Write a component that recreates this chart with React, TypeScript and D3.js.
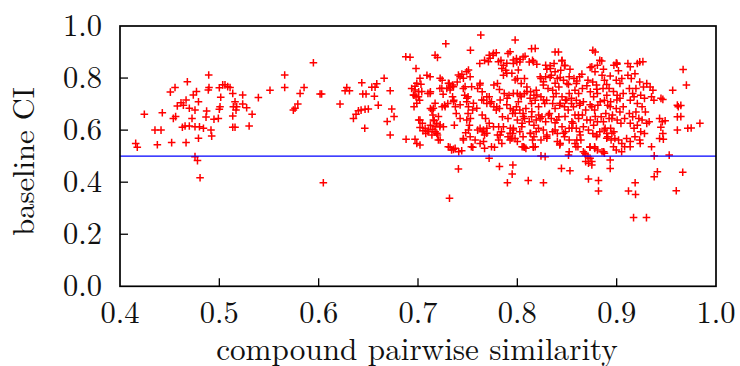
import React, { useEffect, useRef } from "react";
import * as d3 from "d3";

const xTicks = [0.4, 0.5, 0.6, 0.7, 0.8, 0.9, 1.0];
const yTicks = [0.0, 0.2, 0.4, 0.6, 0.8, 1.0];
const xLabel = "compound pairwise similarity";
const yLabel = "baseline CI";
const threshold = 0.5;

// [compound pairwise similarity, baseline CI]
const leftCluster: [number, number][] = [
  [0.4158, 0.549], [0.4174, 0.534], [0.4245, 0.661], [0.4352, 0.6], [0.4413, 0.6], [0.4376, 0.544],
  [0.4426, 0.667], [0.4507, 0.746], [0.4554, 0.764], [0.452, 0.552], [0.4537, 0.645], [0.456, 0.652],
  [0.4577, 0.693], [0.4614, 0.705], [0.4638, 0.696], [0.4665, 0.716], [0.4678, 0.786], [0.4665, 0.552],
  [0.4628, 0.611], [0.4655, 0.616], [0.4698, 0.616], [0.4755, 0.613], [0.48, 0.613], [0.484, 0.607],
  [0.4725, 0.645], [0.4755, 0.677], [0.479, 0.709], [0.477, 0.748], [0.4738, 0.735], [0.4698, 0.684],
  [0.4755, 0.498], [0.478, 0.483], [0.4806, 0.417], [0.479, 0.569], [0.4872, 0.673], [0.4889, 0.754],
  [0.4896, 0.764], [0.4893, 0.812], [0.4923, 0.577], [0.4916, 0.6], [0.4946, 0.642], [0.499, 0.645],
  [0.5, 0.68], [0.5007, 0.69], [0.5014, 0.726], [0.5, 0.763], [0.5034, 0.774], [0.5057, 0.774],
  [0.5084, 0.767], [0.5108, 0.764], [0.5135, 0.741], [0.5158, 0.709], [0.5175, 0.69], [0.5141, 0.69],
  [0.5168, 0.677], [0.5135, 0.654], [0.5135, 0.611], [0.5158, 0.611], [0.5235, 0.735], [0.5235, 0.7],
  [0.5275, 0.686], [0.53, 0.616], [0.533, 0.661], [0.5393, 0.725], [0.4866, 0.65],
];

const midCluster: [number, number][] = [
  [0.551, 0.753], [0.5658, 0.812], [0.5658, 0.764], [0.5745, 0.677], [0.5762, 0.684], [0.579, 0.7],
  [0.5813, 0.741], [0.5853, 0.764], [0.5947, 0.859], [0.6014, 0.739], [0.603, 0.739], [0.6047, 0.398],
  [0.6215, 0.7], [0.6266, 0.751], [0.6283, 0.764], [0.631, 0.751], [0.635, 0.645], [0.6376, 0.661],
  [0.64, 0.674], [0.6434, 0.782], [0.6444, 0.739], [0.6477, 0.739], [0.6427, 0.677], [0.6467, 0.68],
  [0.65, 0.681], [0.6464, 0.607], [0.6535, 0.765], [0.6568, 0.765], [0.6585, 0.778], [0.6561, 0.73],
  [0.66, 0.696], [0.6659, 0.799], [0.672, 0.751], [0.6736, 0.681], [0.6759, 0.652], [0.669, 0.633],
  [0.672, 0.581], [0.6877, 0.882], [0.692, 0.88], [0.688, 0.565], [0.697, 0.565], [0.698, 0.837],
];

const rightCluster: [number, number][] = [
  [0.6936, 0.76], [0.697, 0.769], [0.7007, 0.747], [0.703, 0.776], [0.696, 0.734], [0.698, 0.728],
  [0.7016, 0.715], [0.696, 0.69], [0.7007, 0.639], [0.702, 0.61], [0.6988, 0.549], [0.7044, 0.626],
  [0.709, 0.811], [0.71, 0.741], [0.7125, 0.747], [0.705, 0.598], [0.7078, 0.587], [0.71, 0.594],
  [0.7125, 0.683], [0.714, 0.677], [0.7172, 0.888], [0.7196, 0.879], [0.715, 0.658], [0.7163, 0.636],
  [0.7125, 0.619], [0.715, 0.603], [0.7172, 0.594], [0.714, 0.581], [0.7187, 0.626], [0.722, 0.613],
  [0.7196, 0.581], [0.7205, 0.562], [0.722, 0.76], [0.7243, 0.792], [0.7253, 0.738], [0.728, 0.932],
  [0.7243, 0.69], [0.7267, 0.696], [0.73, 0.702], [0.729, 0.76], [0.7314, 0.779], [0.7328, 0.764],
  [0.7348, 0.773], [0.7305, 0.536], [0.7338, 0.524], [0.7317, 0.338], [0.7348, 0.728], [0.736, 0.715],
  [0.7376, 0.69], [0.7385, 0.664], [0.7366, 0.619], [0.741, 0.517], [0.7407, 0.451], [0.7395, 0.785],
  [0.7423, 0.805], [0.7442, 0.815], [0.7456, 0.76], [0.747, 0.734], [0.749, 0.709], [0.7504, 0.728],
  [0.749, 0.824], [0.7504, 0.664], [0.7528, 0.645], [0.755, 0.677], [0.7518, 0.619], [0.748, 0.59],
  [0.7456, 0.568], [0.7528, 0.907], [0.7537, 0.536], [0.7575, 0.562], [0.76, 0.6], [0.76, 0.76],
  [0.7622, 0.773], [0.7646, 0.747], [0.7632, 0.965], [0.7622, 0.856], [0.767, 0.868], [0.7717, 0.888],
  [0.766, 0.715], [0.7693, 0.702], [0.7717, 0.728], [0.774, 0.709], [0.7764, 0.69], [0.7646, 0.658],
  [0.768, 0.645], [0.7717, 0.626], [0.7646, 0.594], [0.767, 0.581], [0.7693, 0.607], [0.767, 0.53],
  [0.774, 0.536], [0.7716, 0.492], [0.7755, 0.888], [0.7788, 0.897], [0.7764, 0.773], [0.78, 0.779],
  [0.782, 0.756], [0.7788, 0.677], [0.782, 0.683], [0.785, 0.651], [0.7812, 0.613], [0.784, 0.594],
  [0.78, 0.581], [0.7812, 0.562], [0.782, 0.46], [0.7835, 0.868], [0.786, 0.849], [0.7883, 0.83],
  [0.786, 0.811], [0.7868, 0.741], [0.7897, 0.722], [0.7916, 0.734], [0.7906, 0.894], [0.793, 0.683],
  [0.7953, 0.664], [0.7906, 0.645], [0.793, 0.607], [0.7953, 0.587], [0.7906, 0.575], [0.7977, 0.568],
  [0.79, 0.398], [0.7955, 0.466], [0.7948, 0.431], [0.7978, 0.946], [0.7991, 0.875], [0.8025, 0.862],
  [0.8058, 0.881], [0.8, 0.798], [0.8039, 0.779], [0.8072, 0.798], [0.8096, 0.766], [0.8, 0.741],
  [0.8039, 0.728], [0.8072, 0.741], [0.7991, 0.69], [0.8025, 0.677], [0.8058, 0.664], [0.8086, 0.683],
  [0.8, 0.639], [0.8048, 0.626], [0.8072, 0.645], [0.8025, 0.594], [0.8058, 0.575], [0.8, 0.556],
  [0.8048, 0.536], [0.8086, 0.53], [0.811, 0.406], [0.812, 0.862], [0.8153, 0.868], [0.8134, 0.747],
  [0.8167, 0.734], [0.819, 0.753], [0.8143, 0.702], [0.818, 0.715], [0.8214, 0.69], [0.8143, 0.651],
  [0.812, 0.632], [0.8167, 0.619], [0.819, 0.639], [0.8214, 0.658], [0.8134, 0.587], [0.8167, 0.575],
  [0.819, 0.594], [0.8153, 0.562], [0.818, 0.536], [0.8143, 0.913], [0.8238, 0.798], [0.8262, 0.773],
  [0.8285, 0.805], [0.8309, 0.76], [0.8238, 0.728], [0.8276, 0.702], [0.8295, 0.715], [0.8248, 0.651],
  [0.8285, 0.632], [0.8323, 0.664], [0.8262, 0.6], [0.8295, 0.575], [0.8238, 0.562], [0.8238, 0.501],
  [0.828, 0.498], [0.8263, 0.398], [0.8285, 0.849], [0.8333, 0.837], [0.837, 0.856], [0.8342, 0.811],
  [0.838, 0.824], [0.8403, 0.798], [0.8356, 0.753], [0.839, 0.741], [0.8418, 0.766], [0.8356, 0.702],
  [0.838, 0.683], [0.8427, 0.696], [0.8342, 0.645], [0.838, 0.628], [0.8418, 0.651], [0.8356, 0.594],
  [0.8403, 0.587], [0.838, 0.9], [0.8403, 0.556], [0.8427, 0.543], [0.8444, 0.453], [0.845, 0.868],
  [0.8475, 0.849], [0.8437, 0.83], [0.8465, 0.792], [0.85, 0.779], [0.8522, 0.805], [0.845, 0.728],
  [0.8484, 0.715], [0.8522, 0.741], [0.8545, 0.722], [0.8475, 0.69], [0.8512, 0.677], [0.8545, 0.702],
  [0.845, 0.613], [0.8484, 0.594], [0.8522, 0.607], [0.856, 0.626], [0.8475, 0.575], [0.8522, 0.562],
  [0.8515, 0.504], [0.8522, 0.517], [0.853, 0.444], [0.857, 0.798], [0.8594, 0.779], [0.8627, 0.805],
  [0.858, 0.753], [0.8617, 0.741], [0.8655, 0.76], [0.8594, 0.715], [0.8627, 0.696], [0.8665, 0.709],
  [0.858, 0.658], [0.8617, 0.645], [0.8655, 0.658], [0.8688, 0.677], [0.8594, 0.607], [0.8627, 0.594],
  [0.8665, 0.613], [0.858, 0.549], [0.861, 0.536], [0.864, 0.562], [0.8665, 0.517], [0.8688, 0.504],
  [0.8711, 0.498], [0.8688, 0.479], [0.8733, 0.492], [0.875, 0.479], [0.8716, 0.473], [0.875, 0.466],
  [0.8716, 0.412], [0.876, 0.907], [0.875, 0.843], [0.8782, 0.824], [0.8806, 0.849], [0.8711, 0.792],
  [0.8759, 0.785], [0.8797, 0.773], [0.8735, 0.747], [0.8768, 0.728], [0.8806, 0.741], [0.875, 0.69],
  [0.8778, 0.677], [0.8811, 0.696], [0.8735, 0.639], [0.8768, 0.619], [0.8806, 0.632], [0.8844, 0.651],
  [0.876, 0.587], [0.8797, 0.575], [0.883, 0.594], [0.8778, 0.536], [0.8806, 0.524], [0.8817, 0.406],
  [0.8817, 0.366], [0.883, 0.868], [0.8853, 0.811], [0.8877, 0.792], [0.8863, 0.76], [0.8901, 0.734],
  [0.8924, 0.76], [0.8877, 0.715], [0.891, 0.696], [0.8939, 0.709], [0.8891, 0.664], [0.8924, 0.645],
  [0.8958, 0.658], [0.8877, 0.6], [0.8901, 0.587], [0.8939, 0.607], [0.8972, 0.594], [0.891, 0.575],
  [0.8944, 0.562], [0.8982, 0.568], [0.8853, 0.517], [0.8877, 0.511], [0.8935, 0.485], [0.8935, 0.453],
  [0.8972, 0.849], [0.8996, 0.858], [0.8996, 0.792], [0.9033, 0.779], [0.9052, 0.798], [0.9005, 0.734],
  [0.9033, 0.722], [0.9066, 0.741], [0.8996, 0.683], [0.9033, 0.67], [0.9066, 0.69], [0.9005, 0.639],
  [0.9043, 0.626], [0.908, 0.645], [0.9019, 0.562], [0.9052, 0.549], [0.908, 0.536], [0.8996, 0.524],
  [0.9113, 0.856], [0.9137, 0.843], [0.9208, 0.856], [0.9232, 0.862], [0.9264, 0.863], [0.9113, 0.811],
  [0.9147, 0.798], [0.9184, 0.817], [0.9128, 0.76], [0.9161, 0.741], [0.9194, 0.76], [0.9137, 0.715],
  [0.9175, 0.728], [0.9208, 0.702], [0.9128, 0.664], [0.9161, 0.651], [0.9194, 0.67], [0.9223, 0.645],
  [0.9137, 0.626], [0.9175, 0.607], [0.9208, 0.619], [0.91, 0.568], [0.9137, 0.556], [0.9184, 0.575],
  [0.9119, 0.366], [0.9186, 0.398], [0.919, 0.353], [0.917, 0.264], [0.93, 0.264], [0.9232, 0.785],
  [0.927, 0.766], [0.9303, 0.779], [0.9242, 0.734], [0.928, 0.722], [0.9256, 0.69], [0.9289, 0.67],
  [0.9256, 0.639], [0.9303, 0.626], [0.9327, 0.632], [0.9242, 0.594], [0.928, 0.587], [0.9232, 0.562],
  [0.9337, 0.766], [0.9365, 0.753], [0.9351, 0.728], [0.9375, 0.715], [0.9351, 0.536], [0.9378, 0.501],
  [0.9378, 0.421], [0.941, 0.44], [0.9446, 0.722], [0.9432, 0.645], [0.946, 0.632], [0.9465, 0.587],
  [0.9432, 0.568], [0.9529, 0.504], [0.9564, 0.753], [0.9611, 0.696], [0.962, 0.69], [0.9611, 0.651],
  [0.9611, 0.6], [0.96, 0.367], [0.9665, 0.438], [0.9669, 0.833], [0.9702, 0.773], [0.9716, 0.607],
  [0.9838, 0.626], [0.9465, 0.718], [0.9488, 0.636], [0.9445, 0.611], [0.9237, 0.549], [0.947, 0.565],
];

const coreExtra: [number, number][] = [
  [0.818, 0.914], [0.8414, 0.9], [0.8784, 0.9], [0.7995, 0.862], [0.8028, 0.871], [0.8078, 0.884],
  [0.796, 0.856], [0.801, 0.831], [0.7945, 0.818], [0.8162, 0.862], [0.8196, 0.853], [0.8297, 0.834],
  [0.833, 0.847], [0.8448, 0.866], [0.848, 0.847], [0.853, 0.834], [0.865, 0.815], [0.8733, 0.841],
  [0.885, 0.866], [0.8867, 0.834], [0.8935, 0.808], [0.9002, 0.853], [0.823, 0.805], [0.8263, 0.786],
  [0.833, 0.802], [0.838, 0.78], [0.8431, 0.802], [0.8515, 0.775], [0.8599, 0.789], [0.87, 0.77],
  [0.88, 0.757], [0.89, 0.775], [0.8968, 0.748], [0.796, 0.741], [0.8028, 0.735], [0.8096, 0.748],
  [0.8129, 0.722], [0.8196, 0.735], [0.8263, 0.716], [0.8364, 0.728], [0.8431, 0.703], [0.8498, 0.716],
  [0.8565, 0.69], [0.8632, 0.703], [0.8733, 0.697], [0.8834, 0.709], [0.8935, 0.69], [0.9002, 0.716],
  [0.7978, 0.665], [0.806, 0.652], [0.8146, 0.671], [0.823, 0.645], [0.8313, 0.658], [0.8398, 0.639],
  [0.848, 0.652], [0.8549, 0.632], [0.8615, 0.658], [0.87, 0.639], [0.8784, 0.652], [0.8867, 0.632],
  [0.8952, 0.645], [0.796, 0.6], [0.8045, 0.613], [0.8129, 0.588], [0.8213, 0.607], [0.8297, 0.581],
  [0.838, 0.6], [0.8465, 0.588], [0.8549, 0.607], [0.8632, 0.581], [0.8716, 0.6], [0.88, 0.581],
  [0.8884, 0.607], [0.8952, 0.588], [0.7945, 0.569], [0.806, 0.536], [0.816, 0.536], [0.8297, 0.569],
  [0.8431, 0.549], [0.8599, 0.562], [0.8733, 0.536], [0.89, 0.569], [0.7323, 0.534], [0.7357, 0.526],
  [0.744, 0.521], [0.7552, 0.534], [0.7625, 0.549], [0.766, 0.556], [0.777, 0.534], [0.7844, 0.549],
  [0.7927, 0.562], [0.807, 0.534], [0.8162, 0.534], [0.843, 0.549], [0.859, 0.536], [0.868, 0.511],
  [0.873, 0.534], [0.878, 0.53], [0.887, 0.517], [0.8968, 0.536], [0.905, 0.517], [0.9136, 0.536],
  [0.9002, 0.857], [0.9018, 0.828], [0.7927, 0.901], [0.702, 0.799], [0.6988, 0.78], [0.697, 0.754],
  [0.6954, 0.735], [0.7004, 0.728], [0.6988, 0.703], [0.7038, 0.748], [0.7122, 0.805], [0.7122, 0.741],
  [0.7223, 0.799], [0.724, 0.761], [0.7306, 0.78], [0.7323, 0.754], [0.7357, 0.767], [0.7407, 0.812],
  [0.7457, 0.799], [0.7508, 0.831], [0.7525, 0.805], [0.7474, 0.767], [0.754, 0.767], [0.7625, 0.78],
  [0.7709, 0.863], [0.776, 0.895], [0.7726, 0.876], [0.781, 0.863], [0.7844, 0.837], [0.7894, 0.857],
  [0.796, 0.869], [0.7894, 0.818], [0.7978, 0.793], [0.7155, 0.684], [0.7172, 0.703], [0.7273, 0.69],
  [0.7357, 0.709], [0.7424, 0.697], [0.7491, 0.722], [0.7508, 0.69], [0.7558, 0.703], [0.7592, 0.684],
  [0.7642, 0.716], [0.7693, 0.728], [0.7726, 0.703], [0.7793, 0.69], [0.7827, 0.716], [0.7894, 0.697],
  [0.796, 0.677], [0.8011, 0.709], [0.702, 0.639], [0.7072, 0.607], [0.7105, 0.6], [0.7155, 0.639],
  [0.7172, 0.613], [0.719, 0.588], [0.7206, 0.652], [0.7223, 0.62], [0.7256, 0.613], [0.7374, 0.53],
  [0.7424, 0.645], [0.7457, 0.562], [0.7491, 0.639], [0.7508, 0.6], [0.7525, 0.575], [0.7625, 0.607],
  [0.7659, 0.6], [0.7693, 0.588], [0.776, 0.613], [0.7827, 0.581], [0.786, 0.613], [0.7927, 0.588],
  [0.796, 0.607], [0.702, 0.543], [0.7223, 0.562], [0.9646, 0.695], [0.9646, 0.652], [0.975, 0.608],
];

const allPoints = [...leftCluster, ...midCluster, ...rightCluster, ...coreExtra];

const W = 740;
const H = 366;
const M = { left: 120, right: 716, top: 26, bottom: 286.3 };

export default function App() {
  const ref = useRef<SVGSVGElement>(null);

  useEffect(() => {
    const svg = d3.select(ref.current);
    svg.selectAll("*").remove();

    const x = d3.scaleLinear().domain([0.4, 1.0]).range([M.left, M.right]);
    const y = d3.scaleLinear().domain([0, 1]).range([M.bottom, M.top]);
    const font = '"Latin Modern Roman", "Times New Roman", serif';
    const fs = "30.5px";

    // points
    const s = 3.8;
    const g = svg.append("g").attr("stroke", "#ff0000").attr("stroke-width", 1.5);
    g.selectAll("path")
      .data(allPoints)
      .join("path")
      .attr("d", (d) => {
        const cx = x(d[0]);
        const cy = y(d[1]);
        return `M${cx - s},${cy}H${cx + s}M${cx},${cy - s}V${cy + s}`;
      });

    // threshold line
    svg.append("line")
      .attr("x1", x(0.4)).attr("x2", x(1.0))
      .attr("y1", y(threshold)).attr("y2", y(threshold))
      .attr("stroke", "#0000ff").attr("stroke-width", 1.4);

    // frame
    svg.append("rect")
      .attr("x", M.left).attr("y", M.top)
      .attr("width", M.right - M.left).attr("height", M.bottom - M.top)
      .attr("fill", "none").attr("stroke", "#000").attr("stroke-width", 1.7);

    // ticks
    const tl = 8;
    svg.append("g").selectAll("line").data(yTicks.slice(1, -1)).join("line")
      .attr("x1", M.left).attr("x2", M.left + tl)
      .attr("y1", (d) => y(d)).attr("y2", (d) => y(d))
      .attr("stroke", "#000").attr("stroke-width", 1.3);
    svg.append("g").selectAll("line").data(xTicks.slice(1, -1)).join("line")
      .attr("x1", (d) => x(d)).attr("x2", (d) => x(d))
      .attr("y1", M.bottom).attr("y2", M.bottom - tl)
      .attr("stroke", "#000").attr("stroke-width", 1.3);

    // tick labels
    svg.append("g").selectAll("text").data(yTicks).join("text")
      .attr("x", 102).attr("y", (d) => y(d) + 10)
      .attr("text-anchor", "end")
      .style("font-family", font).style("font-size", fs).attr("fill", "#111")
      .text((d) => d3.format(".1f")(d));
    svg.append("g").selectAll("text").data(xTicks).join("text")
      .attr("x", (d) => x(d)).attr("y", 323)
      .attr("text-anchor", "middle")
      .style("font-family", font).style("font-size", fs).attr("fill", "#111")
      .text((d) => d3.format(".1f")(d));

    // axis labels
    svg.append("text")
      .attr("x", (M.left + M.right) / 2 - 1).attr("y", 359.5)
      .attr("text-anchor", "middle")
      .style("font-family", font).style("font-size", "31.2px").attr("fill", "#111")
      .text(xLabel);
    svg.append("text")
      .attr("transform", `translate(34,${161.5}) rotate(-90)`)
      .attr("text-anchor", "middle")
      .style("font-family", font).style("font-size", fs).attr("fill", "#111")
      .text(yLabel);
  }, []);

  return (
    <svg
      ref={ref}
      width={W}
      height={H}
      style={{ position: "absolute", left: 0, top: 0, background: "#fff" }}
    />
  );
}
